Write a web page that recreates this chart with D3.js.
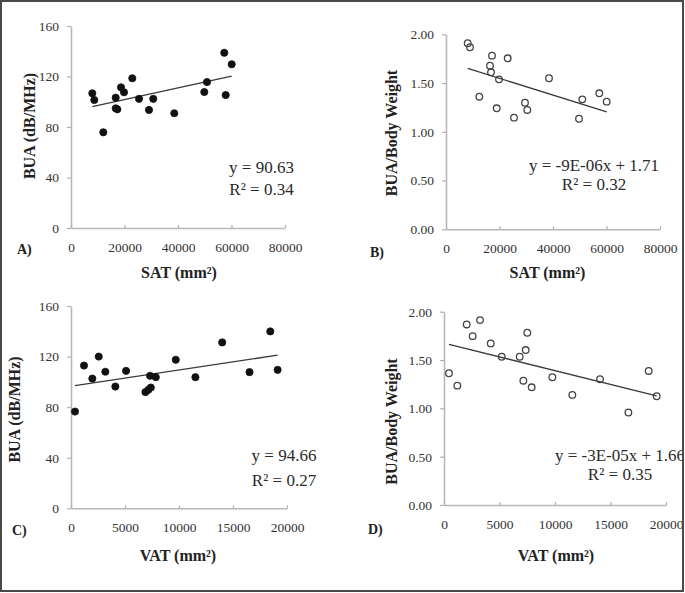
<!DOCTYPE html>
<html><head><meta charset="utf-8">
<script src="https://cdn.jsdelivr.net/npm/d3@7"></script>
<style>
body{margin:0;background:#fff}
svg{display:block}
text{font-family:"Liberation Serif","Times New Roman",serif}
</style>
</head><body>
<svg id="c" width="685" height="593"></svg>
<script>
// ---- data ----
const satA = [7960, 8710, 12070, 16710, 16710, 17310, 18690, 19810, 22910, 25420, 29160, 30760, 38610, 49830, 50840, 57300, 60070, 57830];
const buaA = [106.7, 101.4, 75.8, 103.2, 94.8, 94.0, 111.4, 107.5, 118.6, 102.3, 93.5, 102.3, 90.9, 107.7, 115.6, 138.8, 129.7, 105.3];

const satB = [8110, 8970, 17190, 23060, 16450, 16820, 19810, 12450, 18950, 25420, 29530, 30390, 38500, 49720, 50950, 57300, 60070];
const bwB  = [1.908, 1.867, 1.781, 1.754, 1.678, 1.610, 1.538, 1.360, 1.241, 1.145, 1.298, 1.224, 1.549, 1.134, 1.333, 1.395, 1.309];

const vatC = [371, 1205, 1975, 2568, 3180, 4107, 5100, 6890, 7166, 7390, 7320, 7850, 9700, 11520, 14000, 16530, 18450, 19130];
const buaC = [76.5, 112.9, 102.6, 120.0, 108.0, 96.3, 108.7, 91.9, 93.7, 95.5, 104.8, 103.7, 117.5, 103.7, 131.2, 107.7, 139.9, 109.5];

const vatD = [450, 1200, 2045, 2585, 3245, 4210, 5200, 6820, 7150, 7360, 7505, 7900, 9760, 11560, 14055, 16610, 18440, 19160];
const bwD  = [1.363, 1.235, 1.868, 1.747, 1.913, 1.672, 1.534, 1.534, 1.286, 1.603, 1.782, 1.218, 1.322, 1.139, 1.301, 0.957, 1.387, 1.125];

const buaTicks = [0, 40, 80, 120, 160];
const bwTicks  = [0, 0.5, 1.0, 1.5, 2.0];
const satTicks = [0, 20000, 40000, 60000, 80000];
const vatTicks = [0, 5000, 10000, 15000, 20000];

// trendline [slope, intercept]
const trendA = [0.000465, 92.4];
const trendB = [-0.0000086, 1.72];
const trendC = [0.00128, 96.6];
const trendD = [-0.0000285, 1.675];

const eqA = ["y = 90.63", "R\u00B2 = 0.34"];
const eqB = ["y = -9E-06x + 1.71", "R\u00B2 = 0.32"];
const eqC = ["y = 94.66", "R\u00B2 = 0.27"];
const eqD = ["y = -3E-05x + 1.66", "R\u00B2 = 0.35"];

const panelLabels = ["A)", "B)", "C)", "D)"];
const xTitles = ["SAT (mm\u00B2)", "SAT (mm\u00B2)", "VAT (mm\u00B2)", "VAT (mm\u00B2)"];
const yTitles = ["BUA (dB/MHz)", "BUA/Body Weight", "BUA (dB/MHz)", "BUA/Body Weight"];

// ---- drawing ----
const svg = d3.select("#c");
svg.append("defs").append("clipPath").attr("id", "clip")
  .append("rect").attr("x", 0).attr("y", 0).attr("width", 683).attr("height", 591);
const root = svg.append("g").attr("clip-path", "url(#clip)");

const panels = [
  {xs: satA, ys: buaA, xt: satTicks, yt: buaTicks, fmt: d3.format("d"), yfmt: d3.format("d"), tr: trendA, eq: eqA, filled: true,
   px: [71, 285], py: [228, 26], eqX: 261.5, eqY: [173, 195], lab: [17, 254], xT: [179, 278], yT: [29, 126]},
  {xs: satB, ys: bwB, xt: satTicks, yt: bwTicks, fmt: d3.format("d"), yfmt: d3.format(".2f"), tr: trendB, eq: eqB, filled: false,
   px: [446, 660], py: [229.3, 34.3], eqX: 594, eqY: [171, 190], lab: [370, 257], xT: [547.5, 278], yT: [391, 133]},
  {xs: vatC, ys: buaC, xt: vatTicks, yt: buaTicks, fmt: d3.format("d"), yfmt: d3.format("d"), tr: trendC, eq: eqC, filled: true,
   px: [71, 287], py: [508.3, 306], eqX: 284, eqY: [461, 486], lab: [12, 535], xT: [178, 561], yT: [14, 409.5]},
  {xs: vatD, ys: bwD, xt: vatTicks, yt: bwTicks, fmt: d3.format("d"), yfmt: d3.format(".2f"), tr: trendD, eq: eqD, filled: false,
   px: [444, 666], py: [505, 311.7], eqX: 620, eqY: [461, 480], lab: [368, 534], xT: [556, 561], yT: [391, 421.5]}
];

panels.forEach((p, i) => {
  const g = root.append("g");
  const x = d3.scaleLinear().domain([p.xt[0], p.xt[p.xt.length - 1]]).range(p.px);
  const y = d3.scaleLinear().domain([p.yt[0], p.yt[p.yt.length - 1]]).range(p.py);

  const ya = g.append("g").attr("transform", `translate(${p.px[0]},0)`)
    .call(d3.axisLeft(y).tickValues(p.yt).tickFormat(p.yfmt).tickSizeInner(4).tickSizeOuter(0).tickPadding(8));
  const xa = g.append("g").attr("transform", `translate(0,${p.py[0]})`)
    .call(d3.axisBottom(x).tickValues(p.xt).tickFormat(p.fmt).tickSizeInner(-3).tickSizeOuter(0).tickPadding(14));
  [ya, xa].forEach(a => {
    a.select(".domain").attr("stroke", "#b8b8b8").attr("stroke-width", 1.6);
    a.selectAll(".tick line").attr("stroke", "#b0b0b0").attr("stroke-width", 1.2);
    a.selectAll(".tick text").attr("fill", "#333").style("font-size", "13.5px")
      .style("font-family", '"Liberation Serif", serif');
  });

  // trendline
  const ext = d3.extent(p.xs);
  const line = d3.line().x(d => x(d)).y(d => y(p.tr[0] * d + p.tr[1]));
  g.append("path").datum(ext).attr("d", line).attr("fill", "none")
    .attr("stroke", "#3a3a3a").attr("stroke-width", 1.3);

  // points
  const pts = p.xs.map((v, k) => [v, p.ys[k]]);
  g.selectAll("circle.pt").data(pts).join("circle").attr("class", "pt")
    .attr("cx", d => x(d[0])).attr("cy", d => y(d[1]))
    .attr("r", p.filled ? 3.6 : 3.3)
    .attr("fill", p.filled ? "#111" : "none")
    .attr("stroke", p.filled ? "#111" : "#444")
    .attr("stroke-width", p.filled ? 0.8 : 1.3);

  // equation
  p.eq.forEach((t, k) => {
    g.append("text").attr("x", p.eqX).attr("y", p.eqY[k]).attr("text-anchor", "middle")
      .attr("fill", "#2a2a2a").style("font-size", "17px").text(t);
  });

  // panel label
  g.append("text").attr("x", p.lab[0]).attr("y", p.lab[1]).attr("fill", "#222")
    .style("font-size", "14px").style("font-weight", "bold").text(panelLabels[i]);

  // axis titles
  g.append("text").attr("x", p.xT[0]).attr("y", p.xT[1]).attr("text-anchor", "middle")
    .attr("fill", "#222").style("font-size", "16px").style("font-weight", "bold").text(xTitles[i]);
  g.append("text").attr("transform", `translate(${p.yT[0]},${p.yT[1]}) rotate(-90)`)
    .attr("text-anchor", "middle").attr("dominant-baseline", "central")
    .attr("fill", "#222").style("font-size", "16px").style("font-weight", "bold").text(yTitles[i]);
});

// outer frame
svg.append("rect").attr("x", 1).attr("y", 1).attr("width", 682).attr("height", 590)
  .attr("fill", "none").attr("stroke", "#4a4a4a").attr("stroke-width", 2);
</script>
</body></html>
